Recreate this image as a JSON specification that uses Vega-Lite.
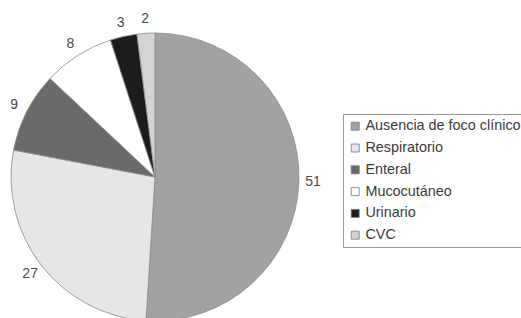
{
  "$schema": "https://vega.github.io/schema/vega-lite/v6.json",
  "width": 310,
  "height": 354,
  "padding": 0,
  "autosize": {"type": "pad"},
  "background": "white",
  "config": {"view": {"stroke": null}, "font": "Liberation Sans"},
  "data": {
    "values": [
      {"foco": "Ausencia de foco clínico", "n": 51, "orden": 1},
      {"foco": "Respiratorio", "n": 27, "orden": 2},
      {"foco": "Enteral", "n": 9, "orden": 3},
      {"foco": "Mucocutáneo", "n": 8, "orden": 4},
      {"foco": "Urinario", "n": 3, "orden": 5},
      {"foco": "CVC", "n": 2, "orden": 6}
    ]
  },
  "encoding": {
    "theta": {"field": "n", "type": "quantitative", "stack": true},
    "order": {"field": "orden", "type": "quantitative"}
  },
  "layer": [
    {
      "mark": {"type": "arc", "outerRadius": 144, "stroke": "#8a8a8a", "strokeWidth": 0.8},
      "encoding": {
        "color": {
          "field": "foco",
          "type": "nominal",
          "scale": {
            "domain": ["Ausencia de foco clínico", "Respiratorio", "Enteral", "Mucocutáneo", "Urinario", "CVC"],
            "range": ["#a2a2a2", "#e6e6e6", "#6a6a6a", "#ffffff", "#1c1c1c", "#d4d4d4"]
          },
          "legend": {
            "title": null,
            "orient": "none",
            "legendX": 343,
            "legendY": 114,
            "symbolType": "square",
            "symbolSize": 64,
            "symbolStrokeColor": "#777",
            "symbolStrokeWidth": 0.8,
            "labelFontSize": 14.4,
            "labelColor": "#3a3a3a",
            "labelFont": "Liberation Sans",
            "labelLimit": 300,
            "rowPadding": 6.8,
            "labelOffset": 3,
            "strokeColor": "#999",
            "padding": 5,
            "fillColor": "white"
          }
        }
      }
    },
    {
      "mark": {"type": "text", "radius": 158, "fontSize": 14, "color": "#4a4a4a", "font": "Liberation Sans"},
      "encoding": {"text": {"field": "n", "type": "quantitative"}}
    }
  ]
}
